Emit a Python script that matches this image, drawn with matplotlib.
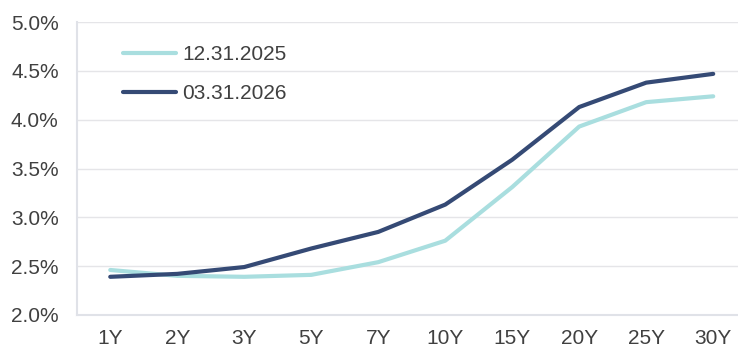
import numpy as np
import matplotlib.pyplot as plt
from matplotlib.ticker import FuncFormatter

# Yield curve data (%)
tenors = ['1Y', '2Y', '3Y', '5Y', '7Y', '10Y', '15Y', '20Y', '25Y', '30Y']
yields_2025 = [2.46, 2.40, 2.39, 2.41, 2.54, 2.76, 3.31, 3.93, 4.18, 4.24]
yields_2026 = [2.39, 2.42, 2.49, 2.68, 2.85, 3.13, 3.59, 4.13, 4.38, 4.47]
labels = ['12.31.2025', '03.31.2026']

plt.rcParams['font.family'] = ['Liberation Sans', 'DejaVu Sans']

fig = plt.figure(figsize=(7.38, 3.46), dpi=100)
ax = fig.add_axes([0.104, 0.09, 0.896, 0.846])

x = np.arange(len(tenors))
ax.plot(x, yields_2025, color='#A9DEDF', linewidth=3.0, label=labels[0],
        solid_capstyle='round', solid_joinstyle='round')
ax.plot(x, yields_2026, color='#354A75', linewidth=3.0, label=labels[1],
        solid_capstyle='round', solid_joinstyle='round')

ax.set_ylim(2.0, 5.0)
ax.set_yticks(np.arange(2.0, 5.01, 0.5))
ax.yaxis.set_major_formatter(FuncFormatter(lambda v, p: f'{v:.1f}%'))
ax.set_xlim(-0.5, 9.37)
ax.set_xticks(x)
ax.set_xticklabels(tenors)

ax.grid(axis='y', color='#E5E5E8', linewidth=1.0)
ax.set_axisbelow(True)
for s in ['top', 'right']:
    ax.spines[s].set_visible(False)
for s in ['left', 'bottom']:
    ax.spines[s].set_color('#E0E2E8')
    ax.spines[s].set_linewidth(1.5)

ax.tick_params(length=0, labelsize=15, colors='#404040')
ax.tick_params(axis='x', pad=10)
ax.tick_params(axis='y', pad=13)

leg = ax.legend(loc='upper left', bbox_to_anchor=(0.041, 0.985), frameon=False,
                fontsize=15, handlelength=2.55, handletextpad=0.3,
                labelspacing=0.95, labelcolor='#404040')

fig.savefig('out.png', dpi=100)
